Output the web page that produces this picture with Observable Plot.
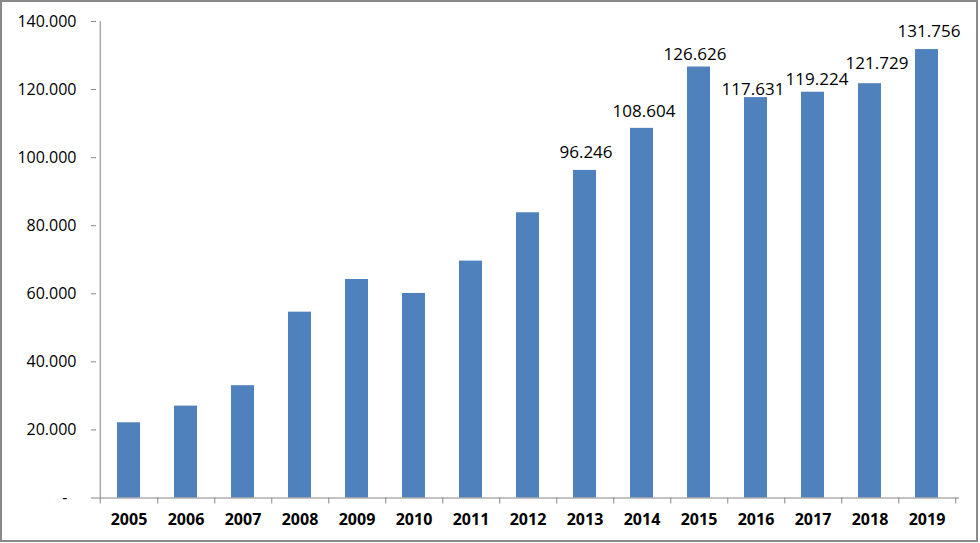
<!DOCTYPE html>
<html>
<head>
<meta charset="utf-8">
<script src="https://cdn.jsdelivr.net/npm/d3@7"></script>
<script src="https://cdn.jsdelivr.net/npm/@observablehq/plot@0.6"></script>
<style>
  html, body { margin: 0; padding: 0; background: #fff; }
  #chart { position: relative; width: 980px; height: 543px; }
  #chart svg { display: block; }
  #chart .border {
    position: absolute; left: 0; top: 0; width: 974px; height: 538px;
    border: 2px solid #8a8a8a; pointer-events: none;
  }
</style>
</head>
<body>
<div id="chart"><div class="border"></div></div>
<script>
// Annual totals, 2005–2019
const years = ["2005","2006","2007","2008","2009","2010","2011","2012","2013","2014","2015","2016","2017","2018","2019"];
const values = [22100, 27000, 33000, 54600, 64200, 60100, 69600, 83800, 96246, 108604, 126626, 117631, 119224, 121729, 131756];
// Years whose bars carry a value label
const labeledYears = ["2013","2014","2015","2016","2017","2018","2019"];
const yTicks = [0, 20000, 40000, 60000, 80000, 100000, 120000, 140000];

const data = years.map((year, i) => ({year, value: values[i]}));
const labeled = data.filter(d => labeledYears.includes(d.year));

// Thousands separated by a dot; zero shown as a dash
const fmt = v => v === 0 ? "-\u2007" : d3.format(",")(v).replace(/,/g, ".");

// Hand placement of the value labels (pixels: right, down) so neighbours don't collide
const labelNudge = {
  "2013": [1, -18], "2014": [2, -17], "2015": [-4, -12], "2016": [-3, -8],
  "2017": [4, -13], "2018": [7, -20], "2019": [2, -18]
};

const width = 980, height = 543;
const marginLeft = 96, marginRight = 21, marginTop = 21, marginBottom = 45.5;
const step = (width - marginLeft - marginRight) / years.length;
const axisColor = "#868686";
const font = "'Open Sans', sans-serif";

const chart = Plot.plot({
  width, height,
  marginLeft, marginRight, marginTop, marginBottom,
  style: {fontFamily: font, fontSize: "16px", color: "#000", background: "#fff"},
  x: {domain: years, paddingInner: 0.6, paddingOuter: 0.3, label: null},
  y: {domain: [0, 140000], label: null},
  marks: [
    Plot.barY(data, {x: "year", y: "value", fill: "#4f81bd"}),
    // category axis line and boundary ticks
    Plot.ruleY([0], {stroke: axisColor, strokeWidth: 1}),
    Plot.ruleX(years, {x: d => d, dx: step / 2, y1: 0, y2: 0, insetBottom: -6, stroke: axisColor}),
    // value axis line, extending to the first boundary tick
    Plot.ruleX([years[0]], {x: d => d, dx: -step / 2, y1: 140000, y2: 0, insetBottom: -6, stroke: axisColor}),
    Plot.axisY({ticks: yTicks, tickFormat: fmt, tickSize: 5, tickPadding: 15, stroke: axisColor, fill: "#000", fontSize: 16}),
    Plot.axisX({tickSize: 0, tickPadding: 16, fontWeight: "bold", fontSize: 16, fill: "#000"}),
    ...labeled.map(d => Plot.text([d], {
      x: "year", y: "value", text: d => fmt(d.value),
      dx: labelNudge[d.year][0], dy: labelNudge[d.year][1], fontSize: 17, fill: "#000"
    }))
  ]
});
document.getElementById("chart").prepend(chart);
</script>
</body>
</html>
